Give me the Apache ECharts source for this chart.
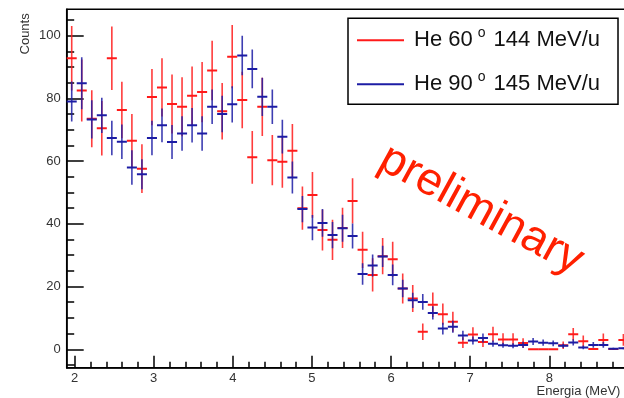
<!DOCTYPE html>
<html><head><meta charset="utf-8">
<script src="https://cdn.jsdelivr.net/npm/echarts@6/dist/echarts.min.js"></script>
<style>html,body{margin:0;padding:0;background:#fff}#c{width:624px;height:398px}</style>
</head><body><div id="c"></div>
<script>
// Histogram binning (56 bins from 1.9 to 9.0 MeV)
const binLow = 1.9, binHigh = 9.0, nBins = 56;
// He 60 deg 144 MeV/u (red)
const red60 = [92.8, 82.5, 73.5, 70.5, 92.8, 76.3, 66.5, 57.6, 80.4, 83.5,
  78.2, 77.3, 80.8, 82.0, 88.9, 75.9, 93.3, 79.5, 61.2, 77.3,
  60.3, 59.8, 63.3, 45.0, 49.2, 38.0, 34.9, 38.7, 47.3, 31.7,
  23.7, 29.7, 28.7, 19.4, 16.2, 5.6, 14.2, 11.2, 8.8, 2.1,
  4.7, 2.3, 4.8, 3.1, 3.1, 2.0, 0, 0, 0, 1.3,
  4.8, 2.6, 0.1, 3.0, 0.1, 3.0];
const red60Err = [10.3, 9.9, 9.1, 8.7, 10.1, 9.0, 8.5, 7.8, 9.0, 9.3,
  9.4, 9.4, 9.4, 9.6, 9.5, 9.0, 10.1, 9.0, 8.4, 9.3,
  8.0, 8.3, 8.5, 6.9, 7.3, 6.5, 6.4, 6.4, 7.2, 5.8,
  5.3, 5.8, 5.6, 4.8, 4.3, 2.6, 3.9, 3.4, 3.2, 1.7,
  2.3, 1.6, 2.4, 2.0, 2.0, 1.5, 0, 0, 0, 1.2,
  2.0, 1.8, 0, 2.0, 0, 1.9];
// He 90 deg 145 MeV/u (blue)
const blue90 = [79.0, 84.8, 73.3, 74.6, 67.4, 66.2, 58.0, 55.8, 67.4, 71.4,
  66.1, 68.8, 71.4, 68.8, 77.3, 75.0, 78.1, 93.7, 89.4, 80.5,
  77.3, 67.8, 54.8, 44.7, 38.8, 40.3, 36.4, 38.6, 36.1, 24.0,
  26.7, 29.6, 23.7, 19.4, 15.6, 15.1, 11.6, 6.6, 7.2, 4.4,
  2.8, 3.6, 1.8, 1.3, 1.1, 1.4, 2.5, 2.1, 1.9, 1.1,
  2.2, 0.6, 1.4, 1.4, 0.2, 0.3];
const blue90Err = [6.4, 8.3, 6.1, 5.6, 5.5, 5.5, 5.5, 4.8, 5.5, 5.4,
  5.4, 5.5, 5.5, 5.5, 5.5, 5.8, 5.8, 6.3, 6.2, 6.1,
  5.5, 5.4, 5.1, 4.2, 4.0, 4.4, 4.2, 4.3, 4.0, 3.4,
  3.5, 3.4, 3.3, 2.8, 2.4, 2.5, 2.1, 1.9, 1.9, 1.5,
  1.3, 1.4, 1.0, 0.8, 0.8, 1.0, 1.1, 1.0, 0.9, 0.7,
  1.0, 0.6, 0.9, 0.9, 0.3, 0.3];
const seriesNames = ['He 60\u00b0 144 MeV/u', 'He 90\u00b0 145 MeV/u'];
const xMajorTicks = [2, 3, 4, 5, 6, 7, 8, 9];
const xMinorTicks = [2.2, 2.4, 2.6, 2.8, 3.2, 3.4, 3.6, 3.8, 4.2, 4.4, 4.6, 4.8,
  5.2, 5.4, 5.6, 5.8, 6.2, 6.4, 6.6, 6.8, 7.2, 7.4, 7.6, 7.8, 8.2, 8.4, 8.6, 8.8];
const yMajorTicks = [0, 20, 40, 60, 80, 100];
const yMinorTicks = [-5, 5, 10, 15, 25, 30, 35, 45, 50, 55, 65, 70, 75, 85, 90, 95, 105];
const xTitle = 'Energia (MeV)', yTitle = 'Counts', watermark = 'preliminary';

const binW = (binHigh - binLow) / nBins;
function histData(vals, errs) {
  return vals.map((v, i) => [binLow + (i + 0.5) * binW, v, errs[i]]);
}
const FONT = 'Liberation Sans, Arial, Helvetica, sans-serif';
const RED = '#ff1a1a', BLUE = '#1c1ca4';

function errRender(color) {
  return function (params, api) {
    const x = api.value(0), y = api.value(1), e = api.value(2);
    const pL = api.coord([x - binW / 2, y]), pR = api.coord([x + binW / 2, y]);
    const pT = api.coord([x, y + e]), pB = api.coord([x, y - e]);
    const children = [
      { type: 'line', shape: { x1: pL[0], y1: pL[1], x2: pR[0], y2: pR[1] },
        style: { stroke: color, lineWidth: 2 } }
    ];
    if (e > 0) children.push({ type: 'line', shape: { x1: pT[0], y1: pT[1], x2: pB[0], y2: pB[1] },
      style: { stroke: color, lineWidth: 1.6, opacity: 0.85 } });
    return { type: 'group', children };
  };
}

const gridRect = { left: 66.7, top: 9.3, right: -4.4, bottom: 30.3 };
const chart = echarts.init(document.getElementById('c'), null, { renderer: 'canvas' });
chart.setOption({
  animation: false,
  backgroundColor: '#fff',
  grid: [
    Object.assign({ show: true, borderColor: '#000', borderWidth: 1.5, outerBoundsMode: 'none' }, gridRect),
    Object.assign({ show: false, outerBoundsMode: 'none' }, gridRect)
  ],
  xAxis: [
    { type: 'value', gridIndex: 0, min: binLow, max: binHigh, position: 'bottom',
      axisLine: { show: true, onZero: false, lineStyle: { color: '#000', width: 1.5 } },
      axisTick: { show: true, inside: true, length: 12, customValues: xMajorTicks, lineStyle: { color: '#000', width: 1.5 } },
      axisLabel: { customValues: xMajorTicks, margin: 4, fontSize: 13, color: '#333', fontFamily: FONT },
      splitLine: { show: false },
      name: xTitle, nameLocation: 'end', nameGap: -8,
      nameTextStyle: { align: 'right', verticalAlign: 'top', padding: [17, 0, 0, 0], fontSize: 13, color: '#333', fontFamily: FONT } },
    { type: 'value', gridIndex: 1, min: binLow, max: binHigh, position: 'bottom',
      axisLine: { show: false, onZero: false }, axisLabel: { show: false }, splitLine: { show: false },
      axisTick: { show: true, inside: true, length: 6, customValues: xMinorTicks, lineStyle: { color: '#000', width: 1.5 } } }
  ],
  yAxis: [
    { type: 'value', gridIndex: 0, min: -5.87, max: 108.4, position: 'left',
      axisLine: { show: true, onZero: false, lineStyle: { color: '#000', width: 1.5 } },
      axisTick: { show: true, inside: true, length: 17, customValues: yMajorTicks, lineStyle: { color: '#000', width: 1.5 } },
      axisLabel: { customValues: yMajorTicks, margin: 6, fontSize: 13, color: '#333', fontFamily: FONT },
      splitLine: { show: false },
      name: yTitle, nameLocation: 'end', nameRotate: 90, nameGap: -4,
      nameTextStyle: { align: 'right', verticalAlign: 'bottom', padding: [0, 0, 35, 0], fontSize: 13, color: '#333', fontFamily: FONT } },
    { type: 'value', gridIndex: 1, min: -5.87, max: 108.4, position: 'left',
      axisLine: { show: false, onZero: false }, axisLabel: { show: false }, splitLine: { show: false },
      axisTick: { show: true, inside: true, length: 7.5, customValues: yMinorTicks, lineStyle: { color: '#000', width: 1.5 } } }
  ],
  legend: {
    show: true, orient: 'vertical', left: 348, top: 18.3,
    padding: [8, 18, 9, 9], itemGap: 19, itemWidth: 47, itemHeight: 2, icon: 'rect',
    borderColor: '#000', borderWidth: 1.5, backgroundColor: '#fff',
    data: seriesNames,
    formatter: function (name) {
      const parts = name.split('\u00b0');
      return '{f|' + parts[0] + '}{s|o}{a|' + parts[1] + '}';
    },
    textStyle: {
      fontFamily: FONT, color: '#111',
      rich: {
        f: { fontSize: 22, lineHeight: 28, fontFamily: FONT, color: '#111', padding: [0, 0, 0, 5] },
        a: { fontSize: 22, lineHeight: 28, fontFamily: FONT, color: '#111' },
        s: { fontSize: 14, fontFamily: FONT, color: '#111', verticalAlign: 'top', lineHeight: 14, padding: [0, 2, 0, 5] }
      }
    }
  },
  graphic: [
    { type: 'text', x: 481, y: 210, rotation: -0.5, z: 50,
      style: { text: watermark, fontSize: 46, fontFamily: FONT, fill: '#ff2000', align: 'center', verticalAlign: 'middle' } }
  ],
  series: [
    { name: seriesNames[0], type: 'custom', xAxisIndex: 0, yAxisIndex: 0, clip: true,
      itemStyle: { color: RED }, renderItem: errRender(RED),
      encode: { x: 0, y: 1 }, data: histData(red60, red60Err) },
    { name: seriesNames[1], type: 'custom', xAxisIndex: 0, yAxisIndex: 0, clip: true,
      itemStyle: { color: BLUE }, renderItem: errRender(BLUE),
      encode: { x: 0, y: 1 }, data: histData(blue90, blue90Err) }
  ]
});
</script></body></html>
